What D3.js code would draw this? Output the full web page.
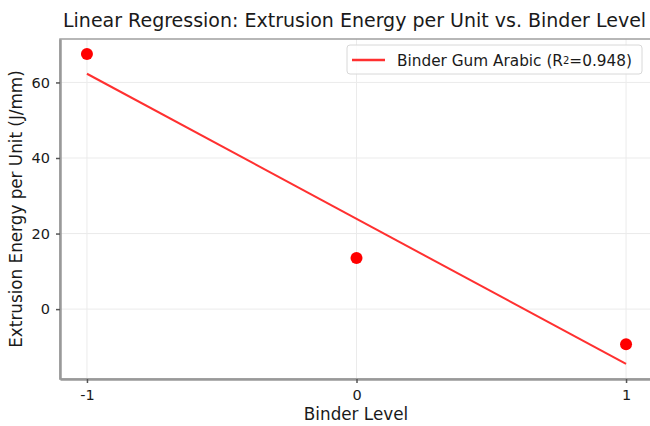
<!DOCTYPE html>
<html>
<head>
<meta charset="utf-8">
<script src="https://cdn.jsdelivr.net/npm/d3@7"></script>
<style>
  body { margin: 0; background: #fff; }
  text { font-family: "DejaVu Sans", sans-serif; fill: #1a1a1a; }
</style>
</head>
<body>
<div class="canvas"></div>
<script>
// Data
const binderLevels = [-1, 0, 1]
const energyValues = [67.5, 13.5, -9.3]
const xTicks = [-1, 0, 1]
const yTicks = [0, 20, 40, 60]
const seriesName = 'Binder Gum Arabic'

const width = 650
const height = 426
const margin = {top: 39, right: -3, bottom: 47, left: 60}

const svg = d3.select('.canvas')
  .append('svg')
    .attr('width', width)
    .attr('height', height)

const x = d3.scaleLinear()
  .domain([-1.1, 1.1])
  .range([margin.left, width - margin.right])

const y = d3.scaleLinear()
  .domain([-18.5, 71.5])
  .range([height - margin.bottom, margin.top])

// least squares fit
const mx = d3.mean(binderLevels)
const my = d3.mean(energyValues)
const slope = d3.sum(binderLevels, (v, i) => (v - mx) * (energyValues[i] - my)) /
  d3.sum(binderLevels, (v) => (v - mx) ** 2)
const intercept = my - slope * mx
const ssRes = d3.sum(binderLevels, (v, i) => (energyValues[i] - (intercept + slope * v)) ** 2)
const ssTot = d3.sum(energyValues, (v) => (v - my) ** 2)
const r2 = 1 - ssRes / ssTot

// grid
svg.append('g')
  .selectAll('line')
  .data(xTicks)
  .enter().append('line')
    .attr('x1', (d) => x(d)).attr('x2', (d) => x(d))
    .attr('y1', y.range()[1]).attr('y2', y.range()[0])
    .attr('stroke', '#ebebeb')
    .attr('stroke-width', 1)

svg.append('g')
  .selectAll('line')
  .data(yTicks)
  .enter().append('line')
    .attr('x1', x.range()[0]).attr('x2', x.range()[1])
    .attr('y1', (d) => y(d)).attr('y2', (d) => y(d))
    .attr('stroke', '#ebebeb')
    .attr('stroke-width', 1)

// frame
svg.append('rect')
  .attr('x', x.range()[0])
  .attr('y', y.range()[1])
  .attr('width', x.range()[1] - x.range()[0])
  .attr('height', y.range()[0] - y.range()[1])
  .attr('fill', 'none')
  .attr('stroke', '#a0a0a0')
  .attr('stroke-width', 1.5)

// axes
const xAxis = svg.append('g')
  .attr('transform', `translate(0,${y.range()[0]})`)
  .call(d3.axisBottom(x).tickValues(xTicks).tickFormat((d) => String(d)).tickSize(4).tickSizeOuter(0).tickPadding(7))
const yAxis = svg.append('g')
  .attr('transform', `translate(${x.range()[0]},0)`)
  .call(d3.axisLeft(y).tickValues(yTicks).tickSize(4).tickSizeOuter(0).tickPadding(6))

for (const ax of [xAxis, yAxis]) {
  ax.select('.domain').attr('stroke', '#999').attr('stroke-width', 2.5)
  ax.selectAll('.tick line').attr('stroke', '#555').attr('stroke-width', 1.5)
  ax.selectAll('.tick text')
    .attr('font-size', 14.5)
    .attr('font-family', '"DejaVu Sans", sans-serif')
    .attr('fill', '#1a1a1a')
}

// regression line
svg.append('line')
  .attr('x1', x(d3.min(binderLevels)))
  .attr('y1', y(intercept + slope * d3.min(binderLevels)))
  .attr('x2', x(d3.max(binderLevels)))
  .attr('y2', y(intercept + slope * d3.max(binderLevels)))
  .attr('stroke', '#ff3030')
  .attr('stroke-width', 2)

// points
svg.append('g')
  .selectAll('circle')
  .data(binderLevels)
  .enter().append('circle')
    .attr('cx', (d) => x(d))
    .attr('cy', (d, i) => y(energyValues[i]))
    .attr('r', 6)
    .attr('fill', '#ff0000')

// title and labels
svg.append('text')
  .attr('x', 63)
  .attr('y', 27)
  .attr('font-size', 19)
  .text('Linear Regression: Extrusion Energy per Unit vs. Binder Level')

svg.append('text')
  .attr('x', 356)
  .attr('y', 420)
  .attr('text-anchor', 'middle')
  .attr('font-size', 16.8)
  .text('Binder Level')

svg.append('text')
  .attr('transform', `translate(22,${(y.range()[0] + y.range()[1]) / 2}) rotate(-90)`)
  .attr('text-anchor', 'middle')
  .attr('font-size', 16.8)
  .text('Extrusion Energy per Unit (J/mm)')

// legend
const legend = svg.append('g').attr('transform', 'translate(347,45)')
legend.append('rect')
  .attr('width', 295)
  .attr('height', 29)
  .attr('rx', 3)
  .attr('fill', '#fff')
  .attr('fill-opacity', 0.85)
  .attr('stroke', '#d8d8d8')
legend.append('line')
  .attr('x1', 5).attr('x2', 38)
  .attr('y1', 15).attr('y2', 15)
  .attr('stroke', '#ff3030')
  .attr('stroke-width', 2.5)
const lt = legend.append('text')
  .attr('x', 50)
  .attr('y', 20.5)
  .attr('font-size', 15.3)
lt.append('tspan').text(`${seriesName} (R`)
lt.append('tspan').attr('font-size', 10).attr('dy', -2).text('2')
lt.append('tspan').attr('dy', 2).text(`=${r2.toFixed(3)})`)
</script>
</body>
</html>
